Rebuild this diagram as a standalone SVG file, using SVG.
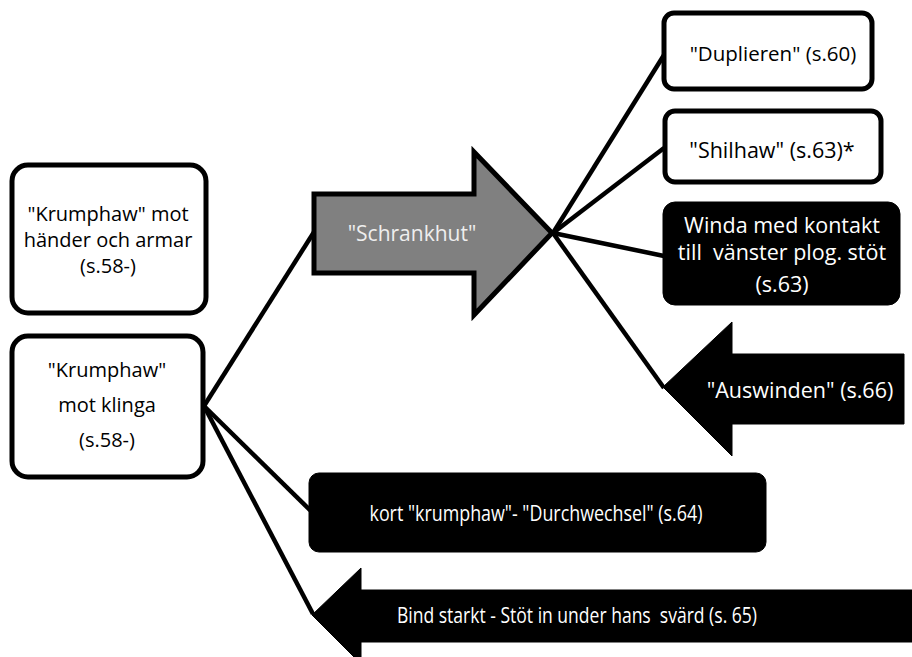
<svg xmlns="http://www.w3.org/2000/svg" width="912" height="657" viewBox="0 0 912 657">
<style>
.box{fill:#fff;stroke:#000;stroke-width:5}
.dark{fill:#000;stroke:#000;stroke-width:1}
.gray{fill:#808080;stroke:#000;stroke-width:5;stroke-linejoin:miter}
.ln{stroke:#000;stroke-width:4.5;fill:none}
text{font-family:"Open Sans","Noto Sans","Liberation Sans",sans-serif;font-size:20px;text-anchor:middle}
.r{font-size:21.5px}
.c{font-size:21.5px}
.b{fill:#000}
.w{fill:#fff}
.g{fill:#eeeeee;font-size:21px}
</style>
<rect width="912" height="657" fill="#fff"/>
<g id="connectors">
<line class="ln" x1="204" y1="406" x2="314" y2="232"/>
<line class="ln" x1="204" y1="406" x2="314" y2="514"/>
<line class="ln" x1="204" y1="406" x2="313" y2="614"/>
<line class="ln" x1="553" y1="233" x2="664" y2="55"/>
<line class="ln" x1="553" y1="233" x2="664" y2="148"/>
<line class="ln" x1="553" y1="233" x2="664" y2="256"/>
<line class="ln" x1="553" y1="233" x2="664" y2="388"/>
</g>
<g id="n1">
<rect class="box" x="12" y="165" width="194" height="148" rx="16"/>
<text class="b" x="108" y="221">"Krumphaw" mot</text>
<text class="b" x="108" y="247">händer och armar</text>
<text class="b" x="108" y="273">(s.58-)</text>
</g>
<g id="n2">
<rect class="box" x="12" y="336" width="191" height="141" rx="16"/>
<text class="b" x="107" y="377">"Krumphaw"</text>
<text class="b" x="107" y="412">mot klinga</text>
<text class="b" x="107" y="447">(s.58-)</text>
</g>
<g id="n3">
<polygon class="gray" points="314,194 474,194 474,152 552,233 474,315 474,273 314,273"/>
<text class="g" x="412" y="241">"Schrankhut"</text>
</g>
<g id="n4">
<rect class="box" x="664" y="13" width="208" height="76" rx="10"/>
<text class="b" x="773" y="61" style="font-size:20.5px">"Duplieren" (s.60)</text>
</g>
<g id="n5">
<rect class="box" x="665" y="111" width="216" height="71" rx="10"/>
<text class="b r" x="772" y="158">"Shilhaw" (s.63)*</text>
</g>
<g id="n6">
<rect class="dark" x="663" y="202" width="237" height="103" rx="12"/>
<text class="w r" x="782" y="233">Winda med kontakt</text>
<text class="w r" x="782" y="260" xml:space="preserve">till  vänster plog. stöt</text>
<text class="w r" x="782" y="292">(s.63)</text>
</g>
<g id="n7">
<polygon class="dark" points="663,387 732,322 732,354 904,354 904,424 732,424 732,456"/>
<text class="w r" x="800" y="398">"Auswinden" (s.66)</text>
</g>
<g id="n8">
<rect class="dark" x="309" y="473" width="457" height="79" rx="10"/>
<text class="w c" x="536" y="521" textLength="333" lengthAdjust="spacingAndGlyphs">kort "krumphaw"- "Durchwechsel" (s.64)</text>
</g>
<g id="n9">
<polygon class="dark" points="312,615 361,568 361,590 912,590 912,642 361,642 361,664"/>
<text class="w c" x="577" y="623" xml:space="preserve" textLength="360" lengthAdjust="spacingAndGlyphs">Bind starkt - Stöt in under hans  svärd (s. 65)</text>
</g>
</svg>
